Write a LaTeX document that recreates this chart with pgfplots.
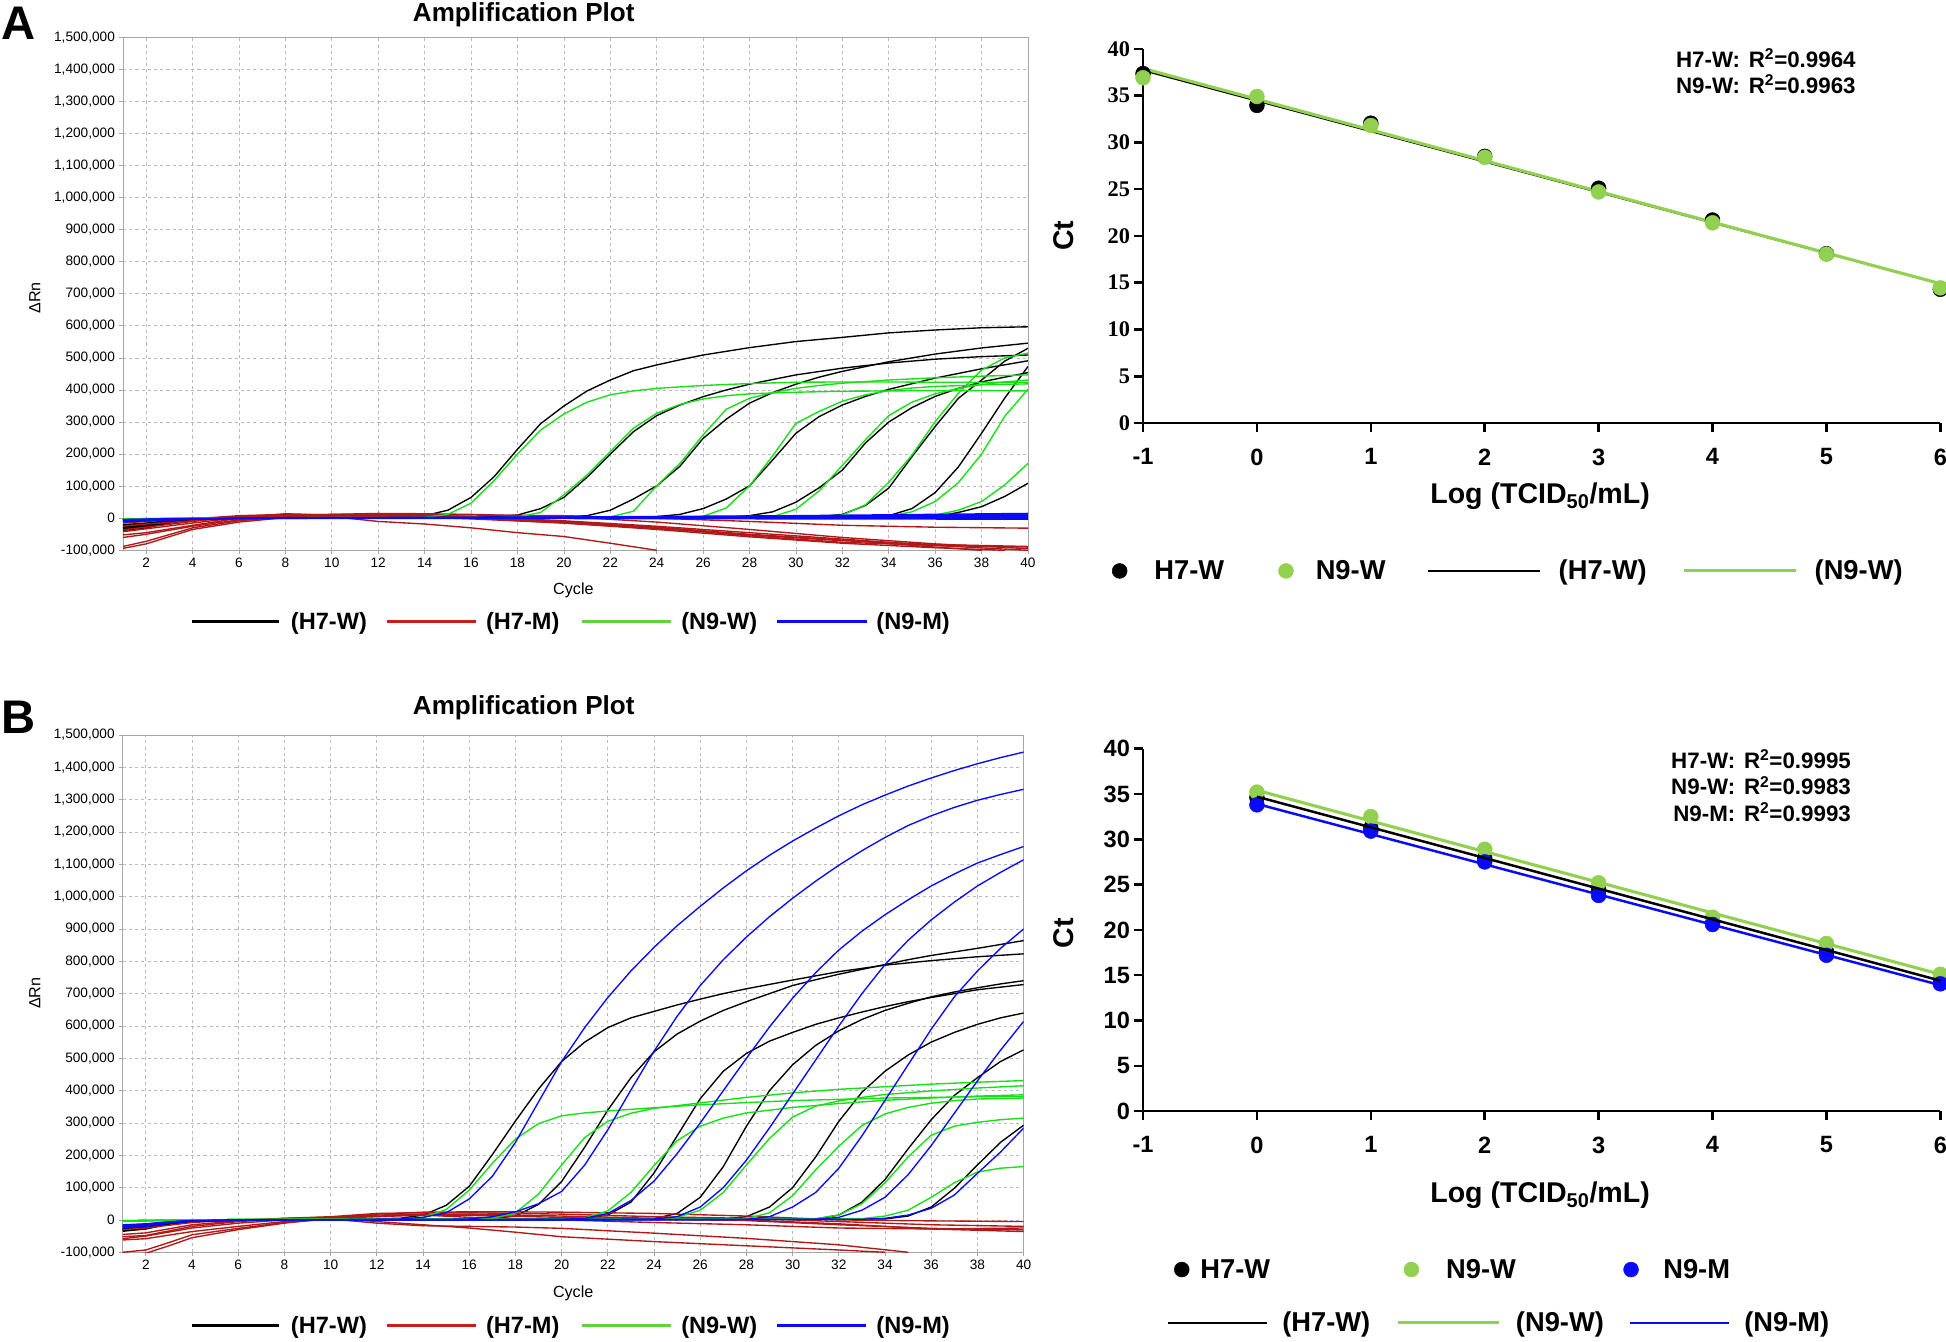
\documentclass[border=0pt]{standalone}
\usepackage{pgfplots}
\pgfplotsset{compat=1.18}
\usepackage{fontspec}
\setmainfont{Liberation Sans}
\newfontfamily\timesf{Liberation Serif}

\definecolor{redc}{RGB}{178,24,24}
\definecolor{grnc}{RGB}{20,225,20}
\definecolor{bluc}{RGB}{10,10,250}
\definecolor{lgrn}{RGB}{146,208,80}
\definecolor{legred}{RGB}{200,30,30}
\definecolor{leggrn}{RGB}{100,210,60}
\definecolor{gridc}{RGB}{185,185,195}

\pgfplotsset{
  lineleg/.style 2 args={legend image code/.code={\path[draw=none,fill=none] (0pt,0pt) -- (#1,0pt);\draw[##1] (0pt,0pt) -- (#2,0pt);}},
  dotleg/.style 2 args={legend image code/.code={\path[draw=none,fill=none] (0pt,0pt) -- (#1,0pt);\draw[##1] plot coordinates {(#2,0pt)};}},
  amp/.style={
    scale only axis, xmin=1, xmax=40, ymin=-100, ymax=1500,
    xtick={2,4,...,40}, ytick={-100,0,...,1500},
    yticklabels={{-100,000},0,{100,000},{200,000},{300,000},{400,000},{500,000},{600,000},{700,000},{800,000},{900,000},{1,000,000},{1,100,000},{1,200,000},{1,300,000},{1,400,000},{1,500,000}},
    grid=major, major grid style={gridc, dash pattern=on 2.5pt off 2.5pt, line width=0.6pt},
    axis line style={draw=gray!70, line width=0.7pt},
    tick pos=left, tick align=outside, major tick length=3pt, tick style={gray!70, line width=0.6pt},
    tick label style={font=\fontsize{11}{12}\selectfont},
    /pgf/number format/assume math mode=true,
    xlabel={Cycle}, ylabel={ΔRn}, label style={font=\fontsize{13}{14}\selectfont},
    legend columns=4, legend cell align=left,
    legend style={draw=none, fill=none, inner sep=0pt, column sep=0pt, nodes={inner sep=0pt}, font=\fontsize{19}{20}\selectfont\bfseries, anchor=west},
  },
  std/.style={
    scale only axis, xmin=-1, xmax=6, ymin=0, ymax=40,
    xtick={-1,0,1,2,3,4,5,6}, ytick={0,5,...,40},
    axis lines*=left, axis line style={line width=2pt,-},
    tick align=outside, major tick length=7pt, tick style={line width=2pt, black},
    clip=false,
    xticklabel style={font=\fontsize{19}{20}\selectfont\bfseries, yshift=-10pt},
    /pgf/number format/assume math mode=true,
    xlabel={Log (TCID\textsubscript{50}/mL)}, ylabel={Ct},
    label style={font=\fontsize{23}{24}\selectfont\bfseries},
    legend cell align=left,
    legend style={draw=none, fill=none, inner sep=0pt, column sep=0pt, nodes={inner sep=0pt}, font=\fontsize{22}{23}\selectfont\bfseries, anchor=west},
  },
  blk/.style={black, line width=1.1pt, forget plot},
  rd/.style={redc, line width=1.1pt, forget plot},
  gr/.style={grnc, line width=1.1pt, forget plot},
  bl/.style={bluc, line width=1.1pt, forget plot},
}

\begin{document}
\begin{tikzpicture}
\useasboundingbox (0,0) rectangle (1568pt,-1081pt);

\node[font=\fontsize{38}{38}\selectfont\bfseries] at (15pt,-19pt) {A};
\node[font=\fontsize{38}{38}\selectfont\bfseries] at (15pt,-578pt) {B};
\node[font=\fontsize{21}{22}\selectfont\bfseries] at (422pt,-12pt) {Amplification Plot};
\node[font=\fontsize{21}{22}\selectfont\bfseries] at (422pt,-570pt) {Amplification Plot};

% ---------- A: amplification plot ----------
\begin{axis}[amp, at={(99.1pt,-443.4pt)}, anchor=south west, width=729.2pt, height=413.4pt,
  xlabel style={at={(axis description cs:0.4977,-0.079)}, anchor=center},
  ylabel style={at={(axis description cs:-0.0975,0.492)}, anchor=center},
  legend style={at={(0.0739,-0.1393)}}]
% H7-W
\addplot[blk] coordinates {(1,-28)(2,-22)(3,-10)(4,-2)(6,2)(8,3)(10,3)(12,3)(13,4)(14,8)(15,25)(16,65)(17,130)(18,215)(19,295)(20,350)(21,397)(22,431)(23,460)(24,478)(25,494)(26,509)(28,532)(30,551)(32,564)(34,578)(36,587)(38,594)(40,597)};
\addplot[blk] coordinates {(1,-35)(2,-28)(3,-14)(4,-4)(6,1)(10,2)(14,2)(16,3)(17,5)(18,10)(19,30)(20,65)(21,128)(22,200)(23,270)(24,320)(25,353)(26,379)(27,400)(28,418)(30,447)(32,468)(34,484)(36,496)(38,504)(40,509)};
\addplot[blk] coordinates {(1,-30)(2,-24)(3,-12)(4,-3)(6,1)(10,2)(15,2)(18,3)(20,4)(21,8)(22,25)(23,60)(24,101)(25,162)(26,249)(27,309)(28,359)(29,392)(30,418)(31,440)(32,458)(34,488)(36,512)(38,531)(40,546)};
\addplot[blk] coordinates {(1,-32)(2,-26)(3,-13)(4,-4)(6,0)(10,1)(15,1)(20,2)(23,3)(24,5)(25,12)(26,30)(27,60)(28,101)(29,182)(30,265)(31,317)(32,353)(33,380)(34,402)(36,437)(38,466)(40,491)};
\addplot[blk] coordinates {(1,-26)(2,-20)(3,-10)(4,-3)(6,0)(10,1)(20,1)(26,2)(27,3)(28,8)(29,20)(30,50)(31,95)(32,150)(33,235)(34,300)(35,345)(36,380)(37,405)(38,425)(39,440)(40,454)};
\addplot[blk] coordinates {(1,-38)(2,-30)(3,-15)(4,-5)(6,0)(10,1)(20,1)(29,2)(30,3)(31,5)(32,12)(33,40)(34,94)(35,192)(36,286)(37,374)(38,431)(39,490)(40,530)};
\addplot[blk] coordinates {(1,-24)(2,-18)(3,-9)(4,-2)(6,0)(10,1)(20,1)(32,2)(33,3)(34,8)(35,30)(36,80)(37,160)(38,265)(39,375)(40,473)};
\addplot[blk] coordinates {(1,-20)(2,-15)(3,-7)(4,-2)(6,0)(10,1)(20,1)(34,2)(35,3)(36,5)(37,18)(38,36)(39,68)(40,109)};
% H7-M
\addplot[rd] coordinates {(1,-15)(2,-10)(4,-2)(6,8)(8,12)(10,10)(12,12)(14,12)(16,10)(20,8)(24,0)(28,-10)(32,-22)(36,-28)(40,-31)};
\addplot[rd] coordinates {(1,-36)(2,-28)(4,-10)(6,5)(8,12)(10,8)(12,10)(14,10)(16,5)(20,-10)(24,-30)(28,-55)(32,-75)(36,-85)(40,-90)};
\addplot[rd] coordinates {(1,-52)(2,-45)(4,-22)(6,0)(8,10)(10,8)(12,5)(14,3)(16,-2)(20,-15)(24,-35)(28,-58)(32,-78)(36,-92)(39,-100)};
\addplot[rd] coordinates {(1,-88)(2,-72)(4,-30)(6,-8)(8,5)(10,5)(12,-10)(14,-18)(16,-30)(18,-45)(20,-57)(22,-78)(24,-100)};
\addplot[rd] coordinates {(1,-94)(2,-80)(4,-35)(6,-12)(8,2)(10,8)(12,10)(14,8)(16,2)(20,-12)(24,-28)(28,-50)(32,-68)(36,-90)(38,-100)};
\addplot[rd] coordinates {(1,-42)(2,-33)(4,-15)(6,2)(8,14)(10,10)(12,8)(16,0)(20,-15)(24,-32)(28,-52)(32,-70)(36,-82)(40,-88)};
\addplot[rd] coordinates {(1,-25)(2,-18)(4,-8)(6,5)(8,10)(10,12)(12,15)(14,14)(16,12)(20,5)(24,-12)(28,-35)(32,-60)(36,-80)(40,-95)};
\addplot[rd] coordinates {(1,-60)(2,-50)(4,-25)(6,-5)(8,8)(10,12)(12,12)(14,10)(16,5)(20,-8)(24,-25)(28,-45)(32,-65)(36,-85)(40,-100)};
% N9-W
\addplot[gr] coordinates {(1,-3)(2,-2)(4,0)(6,1)(10,2)(13,2)(14,3)(15,12)(16,47)(17,118)(18,200)(19,275)(20,325)(21,362)(22,385)(23,397)(24,405)(26,414)(28,420)(30,424)(32,425)(34,425)(36,424)(38,424)(40,423)};
\addplot[gr] coordinates {(1,-4)(2,-3)(4,0)(6,1)(10,1)(17,2)(18,4)(19,18)(20,73)(21,135)(22,208)(23,281)(24,327)(25,355)(26,372)(27,382)(28,388)(30,393)(32,396)(34,397)(36,398)(38,398)(40,397)};
\addplot[gr] coordinates {(1,-2)(2,-1)(4,0)(6,1)(10,1)(21,2)(22,4)(23,22)(24,101)(25,171)(26,260)(27,340)(28,374)(29,392)(30,405)(31,414)(32,421)(34,431)(36,438)(38,443)(40,447)};
\addplot[gr] coordinates {(1,-5)(2,-3)(4,0)(6,1)(20,1)(25,2)(26,6)(27,32)(28,101)(29,195)(30,296)(31,333)(32,365)(33,385)(34,398)(35,406)(36,411)(38,416)(40,419)};
\addplot[gr] coordinates {(1,-3)(2,-2)(4,0)(6,1)(20,1)(28,2)(29,5)(30,28)(31,85)(32,165)(33,245)(34,320)(35,362)(36,388)(37,405)(38,417)(39,425)(40,431)};
\addplot[gr] coordinates {(1,-4)(4,0)(6,1)(20,1)(30,2)(31,4)(32,10)(33,42)(34,112)(35,197)(36,301)(37,390)(38,462)(39,500)(40,515)};
\addplot[gr] coordinates {(1,-2)(4,0)(6,1)(20,1)(33,2)(34,6)(35,20)(36,52)(37,111)(38,200)(39,318)(40,402)};
\addplot[gr] coordinates {(1,-3)(4,0)(6,1)(20,1)(35,3)(36,10)(37,25)(38,52)(39,104)(40,171)};
% N9-M
\addplot[bl] coordinates {(1,-10)(2,-7)(4,-2)(6,0)(10,2)(20,4)(30,8)(40,15)};
\addplot[bl] coordinates {(1,-6)(2,-4)(4,-1)(6,0)(10,1)(20,3)(30,6)(40,12)};
\addplot[bl] coordinates {(1,-12)(2,-8)(4,-3)(6,-1)(10,1)(20,2)(30,5)(40,9)};
\addplot[bl] coordinates {(1,-4)(3,-2)(6,0)(10,1)(20,2)(30,3)(40,6)};
\addplot[bl] coordinates {(1,-8)(3,-4)(6,-1)(10,0)(20,1)(30,2)(40,3)};
\addplot[bl] coordinates {(1,-5)(3,-2)(6,0)(20,0)(30,0)(40,0)};
\addplot[bl] coordinates {(1,-9)(3,-4)(6,-1)(20,-1)(30,-2)(40,-3)};
\addlegendimage{black, line width=2.5pt, lineleg={80pt}{70pt}}
\addlegendentry[text width=76pt]{(H7-W)}
\addlegendimage{legred, line width=2.5pt, lineleg={80pt}{72pt}}
\addlegendentry[text width=76pt]{(H7-M)}
\addlegendimage{leggrn, line width=2.5pt, lineleg={80pt}{72pt}}
\addlegendentry[text width=76pt]{(N9-W)}
\addlegendimage{bluc, line width=2.5pt, lineleg={80pt}{72pt}}
\addlegendentry[text width=76pt]{(N9-M)}
\end{axis}

% ---------- A: standard curve ----------
\begin{axis}[std, at={(921pt,-340.9pt)}, anchor=south west, width=642.4pt, height=301.6pt,
  yticklabel style={font=\fontsize{18}{20}\timesf\bfseries},
  xlabel style={at={(axis description cs:0.498,-0.196)}, anchor=center},
  ylabel style={at={(axis description cs:-0.0996,0.5)}, anchor=center},
  legend columns=4, legend style={at={(-0.0483,-0.395)}}]
\addplot[only marks, mark=*, mark size=6pt, black, dotleg={40pt}{12pt}] coordinates {(-1,37.35)(0,33.95)(1,32.05)(2,28.5)(3,25.1)(4,21.7)(5,18.1)(6,14.3)};
\addlegendentry[text width=100pt]{H7-W}
\addplot[only marks, mark=*, mark size=6pt, lgrn, mark options={draw=lgrn, fill=lgrn}, dotleg={30pt}{6pt}] coordinates {(-1,36.9)(0,34.9)(1,31.8)(2,28.4)(3,24.7)(4,21.4)(5,18.05)(6,14.45)};
\addlegendentry[text width=90pt]{N9-W}
\addplot[black, line width=1.5pt, lineleg={105pt}{90pt}] coordinates {(-1,37.7)(6,14.9)};
\addlegendentry[text width=100pt]{(H7-W)}
\addplot[lgrn, line width=2.5pt, lineleg={105pt}{90pt}] coordinates {(-1,37.9)(6,14.9)};
\addlegendentry[text width=85pt]{(N9-W)}
\node[anchor=west, font=\fontsize{18}{20}\selectfont\bfseries] at (axis description cs:0.663,0.931)
  {\begin{tabular}{@{}r@{\hspace{7pt}}l@{}}H7-W: & R\textsuperscript{2}=0.9964\\ N9-W: & R\textsuperscript{2}=0.9963\end{tabular}};
\end{axis}

% ---------- B: amplification plot ----------
\begin{axis}[amp, at={(98.9pt,-1009pt)}, anchor=south west, width=725.9pt, height=416.8pt,
  xlabel style={at={(axis description cs:0.5,-0.079)}, anchor=center},
  ylabel style={at={(axis description cs:-0.0977,0.501)}, anchor=center},
  legend style={at={(0.0745,-0.1416)}}]
% H7-W
\addplot[blk] coordinates {(1,-32)(2,-26)(3,-12)(4,-4)(6,0)(8,2)(10,3)(12,4)(13,5)(14,15)(15,45)(16,104)(17,202)(18,306)(19,405)(20,490)(21,550)(22,595)(23,625)(24,645)(25,665)(26,683)(27,700)(28,715)(30,742)(32,768)(34,788)(36,802)(38,814)(40,823)};
\addplot[blk] coordinates {(1,-28)(2,-22)(3,-10)(4,-3)(6,0)(10,2)(15,3)(17,4)(18,12)(19,48)(20,119)(21,225)(22,340)(23,440)(24,520)(25,575)(26,615)(27,648)(28,675)(29,700)(30,725)(31,743)(32,760)(33,775)(34,790)(35,805)(36,818)(37,829)(38,840)(39,852)(40,864)};
\addplot[blk] coordinates {(1,-35)(2,-28)(3,-13)(4,-4)(6,0)(10,2)(20,3)(21,5)(22,15)(23,55)(24,145)(25,260)(26,375)(27,460)(28,515)(29,553)(30,580)(31,605)(32,625)(33,643)(34,660)(35,675)(36,688)(37,700)(38,712)(39,720)(40,728)};
\addplot[blk] coordinates {(1,-30)(2,-24)(3,-11)(4,-3)(6,0)(10,1)(20,2)(24,4)(25,20)(26,70)(27,165)(28,290)(29,400)(30,480)(31,540)(32,585)(33,620)(34,648)(35,670)(36,690)(37,705)(38,718)(39,730)(40,740)};
\addplot[blk] coordinates {(1,-25)(2,-20)(3,-9)(4,-2)(6,0)(10,1)(20,1)(27,3)(28,10)(29,40)(30,100)(31,195)(32,305)(33,395)(34,460)(35,510)(36,550)(37,580)(38,605)(39,625)(40,640)};
\addplot[blk] coordinates {(1,-33)(2,-27)(3,-12)(4,-4)(6,0)(10,1)(20,1)(31,3)(32,15)(33,55)(34,125)(35,220)(36,310)(37,385)(38,440)(39,490)(40,526)};
\addplot[blk] coordinates {(1,-27)(2,-21)(3,-10)(4,-3)(6,0)(10,1)(20,1)(34,3)(35,12)(36,40)(37,98)(38,170)(39,240)(40,293)};
% H7-M
\addplot[rd] coordinates {(1,-30)(2,-25)(4,-8)(6,0)(8,5)(10,8)(12,18)(14,24)(16,25)(18,25)(20,24)(24,20)(28,12)(32,0)(36,-3)(40,-5)};
\addplot[rd] coordinates {(1,-45)(2,-40)(4,-15)(6,-3)(8,5)(10,10)(12,20)(14,22)(16,22)(20,18)(24,10)(28,5)(32,-5)(36,-15)(40,-20)};
\addplot[rd] coordinates {(1,-52)(2,-48)(4,-20)(6,-5)(8,3)(10,8)(12,15)(14,18)(16,18)(20,12)(24,5)(28,0)(32,-12)(36,-28)(40,-36)};
\addplot[rd] coordinates {(1,-62)(2,-58)(4,-36)(6,-20)(8,-5)(10,5)(12,12)(14,15)(16,14)(20,8)(24,2)(28,-2)(32,-15)(36,-26)(40,-31)};
\addplot[rd] coordinates {(1,-100)(2,-93)(3,-70)(4,-46)(6,-26)(8,-8)(10,3)(12,-10)(14,-18)(16,-20)(18,-22)(20,-26)(24,-41)(28,-57)(32,-77)(35,-100)};
\addplot[rd] coordinates {(1,-110)(2,-103)(3,-80)(4,-55)(6,-30)(8,-10)(10,5)(12,-5)(14,-15)(16,-25)(18,-38)(20,-52)(24,-67)(28,-80)(32,-93)(34,-100)};
\addplot[rd] coordinates {(1,-58)(2,-50)(4,-25)(6,-10)(8,0)(10,5)(12,10)(14,15)(16,8)(20,0)(24,-8)(28,-15)(32,-25)(36,-28)(40,-25)};
% N9-W
\addplot[gr] coordinates {(1,-3)(2,-2)(4,0)(6,1)(10,2)(13,3)(14,8)(15,32)(16,92)(17,175)(18,250)(19,298)(20,322)(21,331)(22,337)(24,347)(26,356)(28,363)(30,369)(32,373)(34,377)(36,379)(38,381)(40,382)};
\addplot[gr] coordinates {(1,-4)(2,-2)(4,0)(6,1)(10,2)(17,4)(18,22)(19,80)(20,170)(21,255)(22,305)(23,330)(24,345)(26,362)(28,379)(30,393)(32,404)(34,412)(36,420)(38,426)(40,431)};
\addplot[gr] coordinates {(1,-2)(4,0)(6,1)(10,1)(20,2)(21,6)(22,28)(23,85)(24,168)(25,245)(26,290)(27,315)(28,331)(30,348)(32,360)(34,370)(36,377)(38,383)(40,387)};
\addplot[gr] coordinates {(1,-3)(4,0)(6,1)(20,1)(24,3)(25,8)(26,30)(27,85)(28,170)(29,252)(30,318)(31,352)(32,368)(33,379)(34,388)(36,399)(38,408)(40,415)};
\addplot[gr] coordinates {(1,-5)(4,0)(6,1)(20,1)(28,4)(29,22)(30,75)(31,155)(32,228)(33,292)(34,328)(35,348)(36,361)(37,369)(38,374)(40,377)};
\addplot[gr] coordinates {(1,-2)(4,0)(6,1)(20,1)(31,4)(32,15)(33,50)(34,115)(35,195)(36,262)(37,290)(38,302)(39,310)(40,315)};
\addplot[gr] coordinates {(1,-3)(4,0)(6,1)(20,1)(33,4)(34,12)(35,30)(36,70)(37,115)(38,148)(39,160)(40,165)};
% N9-M
\addplot[bl] coordinates {(1,-25)(2,-20)(3,-10)(4,-4)(6,-1)(10,1)(13,3)(14,8)(15,22)(16,65)(17,135)(18,240)(19,365)(20,490)(21,595)(22,688)(23,770)(24,843)(25,910)(26,970)(27,1027)(28,1080)(29,1128)(30,1172)(31,1212)(32,1250)(33,1284)(34,1314)(35,1342)(36,1367)(37,1390)(38,1411)(39,1430)(40,1447)};
\addplot[bl] coordinates {(1,-20)(2,-16)(3,-8)(4,-3)(6,-1)(10,0)(15,2)(16,3)(17,10)(18,25)(19,50)(20,88)(21,170)(22,279)(23,402)(24,522)(25,630)(26,725)(27,805)(28,875)(29,938)(30,995)(31,1048)(32,1097)(33,1142)(34,1183)(35,1220)(36,1250)(37,1276)(38,1298)(39,1316)(40,1332)};
\addplot[bl] coordinates {(1,-18)(2,-14)(3,-7)(4,-3)(6,-1)(10,0)(20,2)(21,5)(22,20)(23,60)(24,120)(25,205)(26,300)(27,400)(28,500)(29,597)(30,686)(31,765)(32,835)(33,893)(34,944)(35,990)(36,1033)(37,1070)(38,1104)(39,1130)(40,1155)};
\addplot[bl] coordinates {(1,-22)(2,-17)(3,-8)(4,-3)(6,-1)(10,0)(20,1)(24,3)(25,10)(26,40)(27,100)(28,185)(29,285)(30,390)(31,495)(32,600)(33,700)(34,790)(35,865)(36,928)(37,983)(38,1033)(39,1075)(40,1114)};
\addplot[bl] coordinates {(1,-15)(2,-12)(3,-6)(4,-2)(6,-1)(10,0)(20,0)(28,2)(29,10)(30,40)(31,85)(32,160)(33,260)(34,370)(35,480)(36,590)(37,690)(38,770)(39,840)(40,900)};
\addplot[bl] coordinates {(1,-20)(2,-15)(3,-7)(4,-3)(6,-1)(10,0)(20,0)(31,2)(32,8)(33,30)(34,70)(35,140)(36,230)(37,330)(38,430)(39,525)(40,614)};
\addplot[bl] coordinates {(1,-17)(2,-13)(3,-6)(4,-2)(6,-1)(10,0)(20,0)(33,2)(34,5)(35,15)(36,36)(37,77)(38,144)(39,210)(40,284)};
\addlegendimage{black, line width=2.5pt, lineleg={80pt}{70pt}}
\addlegendentry[text width=76pt]{(H7-W)}
\addlegendimage{legred, line width=2.5pt, lineleg={80pt}{72pt}}
\addlegendentry[text width=76pt]{(H7-M)}
\addlegendimage{leggrn, line width=2.5pt, lineleg={80pt}{72pt}}
\addlegendentry[text width=76pt]{(N9-W)}
\addlegendimage{bluc, line width=2.5pt, lineleg={80pt}{72pt}}
\addlegendentry[text width=76pt]{(N9-M)}
\end{axis}

% ---------- B: standard curve (points) ----------
\begin{axis}[std, at={(921pt,-895.3pt)}, anchor=south west, width=642.4pt, height=292.1pt,
  yticklabel style={font=\fontsize{19}{20}\selectfont\bfseries},
  xlabel style={at={(axis description cs:0.498,-0.232)}, anchor=center},
  ylabel style={at={(axis description cs:-0.0996,0.49)}, anchor=center},
  legend columns=3, legend style={at={(0.0296,-0.437)}}]
\addplot[only marks, mark=*, mark size=6pt, black, dotleg={27pt}{12pt}] coordinates {(0,34.6)(1,31.25)(2,27.9)(3,24.4)(4,20.9)(5,17.6)(6,14.2)};
\addlegendentry[text width=158pt]{H7-W}
\addplot[only marks, mark=*, mark size=6pt, lgrn, mark options={draw=lgrn, fill=lgrn}, dotleg={40pt}{12pt}] coordinates {(0,35.2)(1,32.5)(2,28.9)(3,25.2)(4,21.4)(5,18.5)(6,15.1)};
\addlegendentry[text width=137pt]{N9-W}
\addplot[only marks, mark=*, mark size=6pt, bluc, dotleg={38pt}{12pt}] coordinates {(0,33.8)(1,30.9)(2,27.5)(3,23.8)(4,20.6)(5,17.2)(6,14.05)};
\addlegendentry[text width=80pt]{N9-M}
\node[anchor=west, font=\fontsize{18}{20}\selectfont\bfseries] at (axis description cs:0.657,0.888)
  {\begin{tabular}{@{}r@{\hspace{7pt}}l@{}}H7-W: & R\textsuperscript{2}=0.9995\\ N9-W: & R\textsuperscript{2}=0.9983\\ N9-M: & R\textsuperscript{2}=0.9993\end{tabular}};
\end{axis}

% ---------- B: standard curve (fit lines) ----------
\begin{axis}[scale only axis, hide axis, clip=false, at={(921pt,-895.3pt)}, anchor=south west, width=642.4pt, height=292.1pt,
  xmin=-1, xmax=6, ymin=0, ymax=40, legend columns=3, legend cell align=left,
  legend style={draw=none, fill=none, inner sep=0pt, column sep=0pt, nodes={inner sep=0pt}, font=\fontsize{22}{23}\selectfont\bfseries, anchor=west, at={(0.0296,-0.584)}}]
\addplot[black, line width=2pt, lineleg={92pt}{80pt}] coordinates {(0,34.7)(6,14.4)};
\addlegendentry[text width=92pt]{(H7-W)}
\addplot[lgrn, line width=2.5pt, lineleg={95pt}{81pt}] coordinates {(0,35.4)(6,15.1)};
\addlegendentry[text width=91pt]{(N9-W)}
\addplot[bluc, line width=2pt, lineleg={92pt}{80pt}] coordinates {(0,33.9)(6,13.9)};
\addlegendentry[text width=88pt]{(N9-M)}
\end{axis}
\end{tikzpicture}
\end{document}
